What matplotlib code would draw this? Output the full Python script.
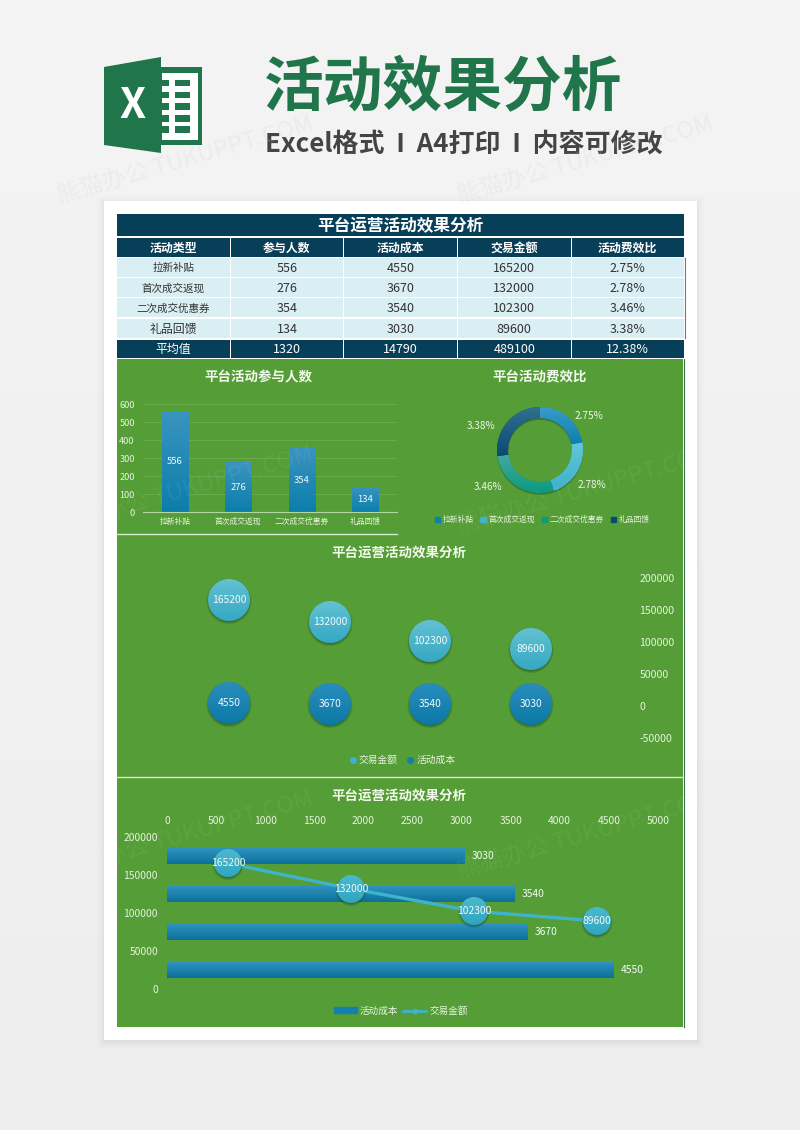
import numpy as np
import matplotlib
matplotlib.use("Agg")
import matplotlib.pyplot as plt
from matplotlib.colors import to_rgb
from matplotlib.lines import Line2D
from matplotlib.offsetbox import AnnotationBbox, OffsetImage
from matplotlib.patches import Patch, Polygon, Rectangle, Wedge

plt.rcParams["font.family"] = ["Noto Sans CJK SC", "DejaVu Sans"]
plt.rcParams["axes.unicode_minus"] = False

# data
types = ["拉新补贴", "首次成交返现", "二次成交优惠券", "礼品回馈"]
people = [556, 276, 354, 134]
cost = [4550, 3670, 3540, 3030]
revenue = [165200, 132000, 102300, 89600]
ratio = [2.75, 2.78, 3.46, 3.38]
ratio_labels = ["2.75%", "2.78%", "3.46%", "3.38%"]
headers = ["活动类型", "参与人数", "活动成本", "交易金额", "活动费效比"]
totals = ["平均值", "1320", "14790", "489100", "12.38%"]
people_ticks = [0, 100, 200, 300, 400, 500, 600]
money_ticks = [-50000, 0, 50000, 100000, 150000, 200000]
line_ticks = [0, 50000, 100000, 150000, 200000]
cost_ticks = [0, 500, 1000, 1500, 2000, 2500, 3000, 3500, 4000, 4500, 5000]

W, H = 800, 1130
DARK = "#073f58"
PALE = "#daeff3"
GREEN = "#559d37"
LIGHT = "#e8f3df"
BLUE_TOP, BLUE_BOT = "#3a94bf", "#0c7eab"
CYAN_TOP, CYAN_BOT = "#62c2d2", "#36a8c4"

fig = plt.figure(figsize=(8, 11.3), dpi=100)


def px_axes(x0, y0, x1, y1):
    # axes from pixel box, y counted from the top
    ax = fig.add_axes([x0 / W, 1 - y1 / H, (x1 - x0) / W, (y1 - y0) / H])
    ax.patch.set_alpha(0)
    for s in ax.spines.values():
        s.set_visible(False)
    ax.tick_params(length=0, colors=LIGHT)
    return ax


def gradient(top, bottom, n=64):
    a, b = np.array(to_rgb(top)), np.array(to_rgb(bottom))
    t = np.linspace(0, 1, n)[:, None, None]
    return a * (1 - t) + b * t


def fill_bars(ax, bars, top, bottom):
    # paint vertical gradient over each bar
    xl, yl = ax.get_xlim(), ax.get_ylim()
    for b in bars:
        x, y, w, h = b.get_x(), b.get_y(), b.get_width(), b.get_height()
        ax.imshow(gradient(top, bottom), extent=[x, x + w, y, y + h], aspect="auto", zorder=2.5)
    ax.set_xlim(xl)
    ax.set_ylim(yl)


def ball(d, top, bottom):
    # round marker as an image: gradient disc over a soft shadow
    n = d + 10
    c = (n - 1) / 2
    yy, xx = np.mgrid[0:n, 0:n].astype(float)
    r = np.hypot(xx - c, yy - c)
    r2 = np.hypot(xx - c, yy - c - 1.5)
    a = np.clip(d / 2 - r + 0.5, 0, 1)
    sa = np.clip((d / 2 + 2 - r2) / 3, 0, 1) * 0.55
    t = np.clip((yy - c + d / 2) / d, 0, 1)[..., None]
    col = np.array(to_rgb(top)) * (1 - t) + np.array(to_rgb(bottom)) * t
    shade = np.array(to_rgb("#1e4a20"))
    out_a = a + sa * (1 - a)
    rgb = (col * a[..., None] + shade * (sa * (1 - a))[..., None]) / np.maximum(out_a, 1e-6)[..., None]
    return np.dstack([rgb, out_a])


def place_balls(ax, xs, ys, d, top, bottom):
    img = ball(d, top, bottom)
    for x, y in zip(xs, ys):
        ab = AnnotationBbox(OffsetImage(img, zoom=1, dpi_cor=False), (x, y), frameon=False, pad=0, zorder=3)
        ax.add_artist(ab)
        ax.text(x, y, str(int(y)), color="#f2fafa", fontsize=7.4, ha="center", va="center", zorder=5)


# page background, card
bg = px_axes(0, 0, W, H)
bg.set_xlim(0, W)
bg.set_ylim(H, 0)
bg.axis("off")
bg.imshow(gradient("#f4f4f4", "#eeeeee"), extent=[0, W, H, 0], aspect="auto", zorder=0)
bg.set_xlim(0, W)
bg.set_ylim(H, 0)
for grow, alpha in [(7, 0.008), (5, 0.012), (3, 0.016), (1, 0.025)]:
    bg.add_patch(Rectangle((104 - grow, 201 - grow + 2), 593 + 2 * grow, 839 + 2 * grow, color="black", alpha=alpha, lw=0, zorder=1))
bg.add_patch(Rectangle((104, 201), 593, 839, color="white", lw=0, zorder=1.5))

# excel logo
LOGO = "#21754a"
bg.add_patch(Rectangle((161, 67), 41, 78, color=LOGO, lw=0, zorder=2))
bg.add_patch(Rectangle((162, 73), 36, 67, color="white", lw=0, zorder=2.1))
for y0, y1 in [(80, 86), (92, 98), (103, 110), (115, 122), (126, 133)]:
    bg.add_patch(Rectangle((161, y0), 8, y1 - y0, color=LOGO, lw=0, zorder=2.2))
    bg.add_patch(Rectangle((174.5, y0), 15.5, y1 - y0, color=LOGO, lw=0, zorder=2.2))
bg.add_patch(Polygon([(104, 67), (161, 57), (161, 153), (104, 145)], color=LOGO, lw=0, zorder=2.3))
bg.text(132.5, 106, "X", color="white", fontsize=30, fontweight="bold", ha="center", va="center", zorder=3)

# heading
bg.text(443.5, 89, "活动效果分析", color="#21754a", fontsize=43, fontweight="bold", ha="center", va="center", zorder=3)
bg.text(464, 144, "Excel格式  I  A4打印  I  内容可修改", color="#444444", fontsize=18.7, fontweight="bold", ha="center", va="center", zorder=3)

# table
col_x = [117, 230, 343.5, 457, 571, 684]
bg.add_patch(Rectangle((117, 214), 567, 22, color=DARK, lw=0, zorder=2))
bg.text(400.5, 226, "平台运营活动效果分析", color="white", fontsize=12, fontweight="bold", ha="center", va="center", zorder=3)


def table_row(y0, y1, cells, face, color, sizes, bold=False):
    for i, txt in enumerate(cells):
        x0, x1 = col_x[i] + (0.8 if i else 0), col_x[i + 1] - 0.4
        bg.add_patch(Rectangle((x0, y0), x1 - x0, y1 - y0, color=face, lw=0, zorder=2))
        bg.text((x0 + x1) / 2, (y0 + y1) / 2 + 0.7, txt, color=color, fontsize=sizes[i], ha="center", va="center",
                fontweight="bold" if bold else "normal", zorder=3)


table_row(238, 257, headers, DARK, "white", [8.6] * 5, bold=True)
row_tops = [258, 278, 298, 319]
for i, t in enumerate(types):
    cells = [t, str(people[i]), str(cost[i]), str(revenue[i]), ratio_labels[i]]
    first = 8.6 if t == "礼品回馈" else 7.6
    table_row(row_tops[i], row_tops[i] + 19, cells, PALE, "#333333", [first, 9, 9, 9, 9])
table_row(340, 358, totals, DARK, "white", [8.6, 9, 9, 9, 9])
bg.plot([684.5, 684.5], [258, 338], color="#777777", lw=0.8, zorder=3)

# green panel
bg.add_patch(Rectangle((117, 359), 566, 668, color=GREEN, lw=0, zorder=2))
bg.plot([684, 684], [359, 1027], color="#3a6d4c", lw=0.8, zorder=2)
bg.plot([117, 397], [534, 534], color="#d5e8ca", lw=1, zorder=2.5)
bg.plot([117, 683], [777, 777], color="#d5e8ca", lw=1, zorder=2.5)
bg.text(258.5, 377, "平台活动参与人数", color="#f4f9ee", fontsize=9.7, fontweight="bold", ha="center", va="center", zorder=3)
bg.text(540, 377, "平台活动费效比", color="#f4f9ee", fontsize=9.7, fontweight="bold", ha="center", va="center", zorder=3)
bg.text(399, 553, "平台运营活动效果分析", color="#f4f9ee", fontsize=9.7, fontweight="bold", ha="center", va="center", zorder=3)
bg.text(399, 796, "平台运营活动效果分析", color="#f4f9ee", fontsize=9.7, fontweight="bold", ha="center", va="center", zorder=3)

# participants bar chart
ax1 = px_axes(143, 404, 397, 512)
ax1.set_xlim(-0.5, 3.5)
ax1.set_ylim(0, 600)
bars1 = ax1.bar(range(4), people, width=0.41, color=BLUE_BOT, zorder=2)
fill_bars(ax1, bars1, BLUE_TOP, BLUE_BOT)
ax1.bar_label(bars1, label_type="center", color="#f2fafa", fontsize=6.8)
for c in ax1.texts:
    c.set_zorder(5)
ax1.set_yticks(people_ticks)
ax1.set_xticks(range(4), types)
ax1.grid(axis="y", color="#69ab4d", lw=0.7, zorder=0)
ax1.set_axisbelow(True)
ax1.spines["bottom"].set_visible(True)
ax1.spines["bottom"].set_color("#b4d6a4")
ax1.tick_params(axis="y", labelsize=6.6, pad=6)
ax1.tick_params(axis="x", labelsize=5.6, pad=4)

# cost ratio donut
ax2 = px_axes(492, 402, 588, 498)
wedges, _ = ax2.pie(ratio, startangle=90, counterclock=False, radius=1.0,
                    colors=["#1287b9", "#4dbcd0", "#0d9a85", "#0d4f7a"], wedgeprops={"width": 0.256})
ax2.add_patch(Wedge((0, -0.04), 1.0, 0, 360, width=0.256, color="#1e4a20", alpha=0.45, lw=0, zorder=0))
donut_tops = ["#3a9ccb", "#62c6d8", "#45a89e", "#32708f"]
donut_bots = ["#0d80ad", "#3fb2ca", "#0c9a80", "#0a4a76"]
for w, top, bot in zip(wedges, donut_tops, donut_bots):
    e = w.get_path().get_extents()
    im = ax2.imshow(gradient(top, bot), extent=[e.x0, e.x1, e.y0, e.y1], aspect="auto", zorder=2)
    im.set_clip_path(w)
ax2.set_xlim(-1.117, 1.117)
ax2.set_ylim(-1.117, 1.117)
label_pos = [(589, 416), (592, 485), (488, 487), (481, 426)]
for txt, (x, y) in zip(ratio_labels, label_pos):
    bg.text(x, y, txt, color="#f0f7e8", fontsize=7.2, ha="center", va="center", zorder=3)
ax2.legend(handles=[Patch(color=c, label=t) for c, t in zip(donut_bots, types)], ncol=4, frameon=False,
           loc="center", bbox_to_anchor=(542 / W, 1 - 520 / H), bbox_transform=fig.transFigure,
           fontsize=5.6, labelcolor=LIGHT, handlelength=0.7, handleheight=0.7, handletextpad=0.3, columnspacing=0.9)

# bubble chart
ax3 = px_axes(179, 578, 581, 738)
ax3.set_xlim(-0.5, 3.5)
ax3.set_ylim(-50000, 200000)
ax3.plot(range(4), revenue, ls="none")
ax3.plot(range(4), cost, ls="none")
place_balls(ax3, range(4), revenue, 42, CYAN_TOP, CYAN_BOT)
place_balls(ax3, range(4), cost, 42, "#2a8dbd", "#0b79a6")
ax3.set_xticks([])
ax3.yaxis.tick_right()
ax3.set_yticks(money_ticks)
ax3.tick_params(axis="y", labelsize=7.6, pad=42)
ax3.legend(handles=[Line2D([], [], ls="none", marker="o", ms=4, color="#3fb0d0", label="交易金额"),
                    Line2D([], [], ls="none", marker="o", ms=4, color="#0f7fb0", label="活动成本")],
           ncol=2, frameon=False, loc="center", bbox_to_anchor=(402 / W, 1 - 760 / H), bbox_transform=fig.transFigure,
           fontsize=7, labelcolor=LIGHT, handlelength=0.8, handletextpad=0.2, columnspacing=0.9)

# cost bars with revenue line
ax4 = px_axes(167, 837, 658, 989)
ax4.set_xlim(0, 5000)
ax4.set_ylim(-0.5, 3.5)
bars4 = ax4.barh(range(4), cost, height=0.42, color=BLUE_BOT, zorder=2)
fill_bars(ax4, bars4, "#2f92bf", "#0b7199")
ax4.bar_label(bars4, padding=5, color="#f2fafa", fontsize=7.4)
ax4.xaxis.tick_top()
ax4.set_xticks(cost_ticks)
ax4.set_yticks([])
ax4.tick_params(axis="x", labelsize=7.4, pad=8)

ax5 = px_axes(167, 837, 658, 989)
ax5.set_xlim(-0.5, 3.5)
ax5.set_ylim(0, 200000)
ax5.plot(range(4), revenue, color="#3fb3cc", lw=2.4, zorder=2)
place_balls(ax5, range(4), revenue, 28, "#4cb9cc", "#2fa6c0")
ax5.set_xticks([])
ax5.set_yticks(line_ticks)
ax5.tick_params(axis="y", labelsize=7.4, pad=6.5)
ax5.legend(handles=[Patch(color="#0f80b0", label="活动成本"),
                    Line2D([], [], color="#3fb3cc", lw=2, marker="o", ms=3, label="交易金额")],
           ncol=2, frameon=False, loc="center", bbox_to_anchor=(401 / W, 1 - 1011 / H), bbox_transform=fig.transFigure,
           fontsize=6.9, labelcolor=LIGHT, handlelength=2.4, handleheight=0.6, handletextpad=0.3, columnspacing=0.5)

# site watermark
for x, y, col, a in [(185, 160, "#cfcfcf", 0.2), (585, 160, "#cfcfcf", 0.2),
                     (185, 490, "white", 0.06), (585, 490, "white", 0.06),
                     (185, 835, "white", 0.06), (585, 835, "white", 0.06)]:
    fig.text(x / W, 1 - y / H, "熊猫办公 TUKUPPT.COM", color=col, alpha=a, fontsize=17,
             rotation=16, ha="center", va="center", rotation_mode="anchor")

fig.savefig("out.png", dpi=100)
